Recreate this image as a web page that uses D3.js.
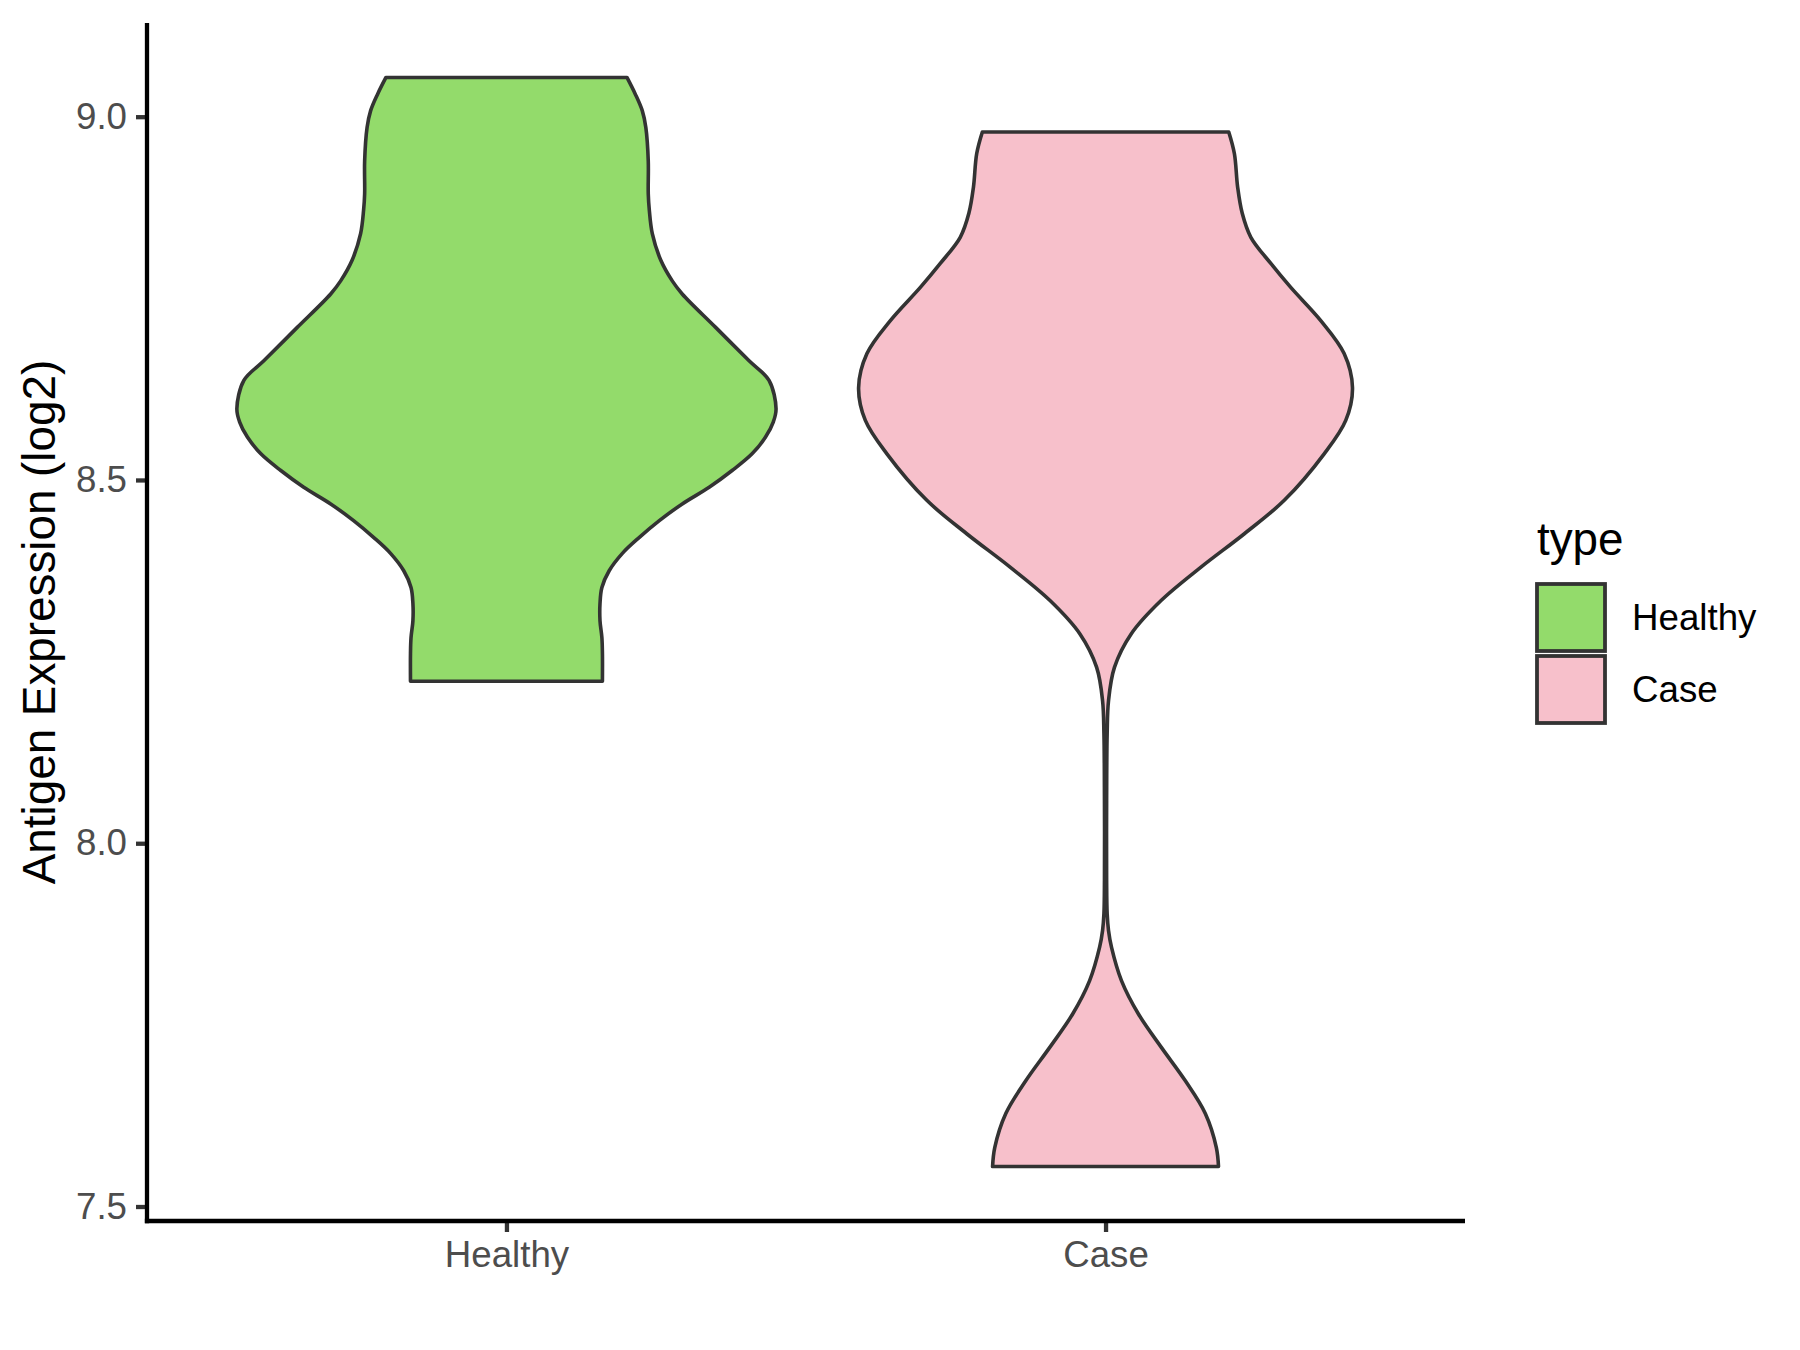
<!DOCTYPE html>
<html>
<head>
<meta charset="utf-8">
<script src="https://d3js.org/d3.v7.min.js"></script>
<style>
    body { margin: 0; background: #ffffff; }
    text { font-family: "Liberation Sans", Arial, sans-serif; }
</style>
</head>
<body>
<div id="chart"></div>
<script>

//groups, fills and axis ticks
var categories = ["Healthy", "Case"];
var fills = ["#93DB6B", "#F7C0CB"];
var yTicks = [7.5, 8.0, 8.5, 9.0];

//violin outlines: expression value and relative half width (widest = 1)
var healthyValues = [8.223, 8.261, 8.283, 8.306, 8.330, 8.352, 8.375, 8.399, 8.421, 8.444, 8.467, 8.490, 8.513, 8.536, 8.559, 8.580, 8.598, 8.637, 8.664, 8.710, 8.756, 8.774, 8.802, 8.839, 8.871, 8.894, 8.939, 8.985, 9.008, 9.031, 9.054];
var healthyWidths = [0.356, 0.356, 0.354, 0.347, 0.347, 0.354, 0.381, 0.430, 0.493, 0.567, 0.652, 0.752, 0.837, 0.911, 0.961, 0.990, 1.000, 0.974, 0.900, 0.776, 0.652, 0.615, 0.573, 0.541, 0.530, 0.526, 0.526, 0.517, 0.504, 0.478, 0.447];

var caseValues = [7.555, 7.581, 7.628, 7.673, 7.719, 7.765, 7.811, 7.857, 7.880, 7.903, 7.949, 8.059, 8.151, 8.196, 8.242, 8.288, 8.334, 8.380, 8.426, 8.472, 8.536, 8.582, 8.627, 8.674, 8.719, 8.765, 8.798, 8.834, 8.867, 8.903, 8.949, 8.979];
var caseWidths = [0.419, 0.411, 0.370, 0.296, 0.207, 0.122, 0.059, 0.022, 0.011, 0.006, 0.004, 0.004, 0.006, 0.011, 0.033, 0.095, 0.206, 0.354, 0.515, 0.663, 0.811, 0.891, 0.916, 0.885, 0.799, 0.687, 0.613, 0.539, 0.507, 0.490, 0.478, 0.457];

/**
 * Violin chart drawn in the ggplot classic style
 */
function ViolinChart(groups){
    var self = this;
    self.groups = groups;
    self.init();
    self.drawViolins();
    self.drawAxes();
    self.drawLegend();
}

ViolinChart.prototype.init = function(){
    var self = this;
    self.width = 1800;
    self.height = 1350;
    self.panel = {left: 147, right: 1465, top: 23, bottom: 1221};

    self.svg = d3.select("#chart").append("svg")
        .attr("width", self.width)
        .attr("height", self.height);

    self.svg.append("rect")
        .attr("width", self.width)
        .attr("height", self.height)
        .attr("fill", "#ffffff");

    //continuous y with 5% expansion like ggplot
    var all = [];
    self.groups.forEach(function(g){ all = all.concat(g.values); });
    var lo = d3.min(all), hi = d3.max(all);
    var pad = (hi - lo) * 0.05;
    self.y = d3.scaleLinear()
        .domain([lo - pad, hi + pad])
        .range([self.panel.bottom, self.panel.top]);

    //discrete x with 0.6 expansion
    self.x = d3.scalePoint()
        .domain(categories)
        .range([self.panel.left, self.panel.right])
        .padding(0.6);

    self.w = d3.scaleLinear()
        .domain([0, 1])
        .range([0, 0.45 * self.x.step()]);
};

ViolinChart.prototype.drawViolins = function(){
    var self = this;
    var g = self.svg.append("g").classed("violins", true);

    self.groups.forEach(function(grp){
        var pts = grp.values.map(function(v, i){ return {v: v, w: grp.widths[i]}; });
        var cx = self.x(grp.name);
        var area = d3.area()
            .curve(d3.curveCatmullRom.alpha(0.5))
            .y(function(d){ return self.y(d.v); })
            .x0(function(d){ return cx - self.w(d.w); })
            .x1(function(d){ return cx + self.w(d.w); });

        g.append("path")
            .datum(pts)
            .attr("d", area)
            .attr("fill", grp.fill)
            .attr("stroke", "#333333")
            .attr("stroke-width", 3.6)
            .attr("stroke-linejoin", "round");
    });
};

ViolinChart.prototype.drawAxes = function(){
    var self = this;

    var yAxis = d3.axisLeft(self.y)
        .tickValues(yTicks)
        .tickFormat(d3.format(".1f"))
        .tickSize(11)
        .tickSizeOuter(0)
        .tickPadding(9);

    var xAxis = d3.axisBottom(self.x)
        .tickSize(11)
        .tickSizeOuter(0)
        .tickPadding(9);

    var ya = self.svg.append("g")
        .attr("transform", "translate(" + self.panel.left + ",0)")
        .call(yAxis);
    var xa = self.svg.append("g")
        .attr("transform", "translate(0," + self.panel.bottom + ")")
        .call(xAxis);

    [ya, xa].forEach(function(a){
        a.select(".domain").remove();
        a.selectAll(".tick line").attr("stroke", "#333333").attr("stroke-width", 4.3);
        a.selectAll(".tick text")
            .attr("fill", "#4D4D4D")
            .style("font-size", "36.7px");
    });

    //axis lines
    self.svg.append("line")
        .attr("x1", self.panel.left).attr("x2", self.panel.left)
        .attr("y1", self.panel.top).attr("y2", self.panel.bottom + 2.15)
        .attr("stroke", "#000000").attr("stroke-width", 4.3);
    self.svg.append("line")
        .attr("x1", self.panel.left - 2.15).attr("x2", self.panel.right)
        .attr("y1", self.panel.bottom).attr("y2", self.panel.bottom)
        .attr("stroke", "#000000").attr("stroke-width", 4.3);

    //y title
    self.svg.append("text")
        .attr("transform", "rotate(-90)")
        .attr("x", -(self.panel.top + self.panel.bottom) / 2)
        .attr("y", 55)
        .attr("text-anchor", "middle")
        .attr("fill", "#000000")
        .style("font-size", "45.8px")
        .text("Antigen Expression (log2)");
};

ViolinChart.prototype.drawLegend = function(){
    var self = this;
    var lg = self.svg.append("g").attr("transform", "translate(1537,0)");

    lg.append("text")
        .attr("x", 0)
        .attr("y", 555)
        .attr("fill", "#000000")
        .style("font-size", "45.8px")
        .text("type");

    var keys = lg.selectAll(".key")
        .data(self.groups)
        .enter().append("g")
        .attr("class", "key")
        .attr("transform", function(d, i){ return "translate(0," + (584 + i * 72) + ")"; });

    keys.append("rect")
        .attr("width", 68)
        .attr("height", 67)
        .attr("fill", function(d){ return d.fill; })
        .attr("stroke", "#333333")
        .attr("stroke-width", 3.8);

    keys.append("text")
        .attr("x", 95)
        .attr("y", 33.5)
        .attr("dy", "0.35em")
        .attr("fill", "#000000")
        .style("font-size", "36.7px")
        .text(function(d){ return d.name; });
};

var chart = new ViolinChart([
    {name: categories[0], fill: fills[0], values: healthyValues, widths: healthyWidths},
    {name: categories[1], fill: fills[1], values: caseValues, widths: caseWidths}
]);

</script>
</body>
</html>
